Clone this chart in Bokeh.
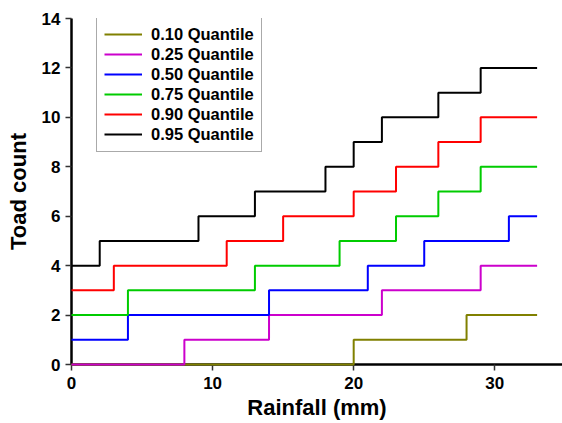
from bokeh.plotting import figure
from bokeh.models import Range1d, FixedTicker, Legend, LegendItem
from bokeh.embed import file_html
from bokeh.resources import INLINE

# Step breakpoints (rainfall, mm) and toad count values for each quantile
q10_x = [0, 20, 28, 33]
q10_y = [0, 1, 2, 2]
q25_x = [0, 8, 14, 22, 29, 33]
q25_y = [0, 1, 2, 3, 4, 4]
q50_x = [0, 4, 14, 21, 25, 31, 33]
q50_y = [1, 2, 3, 4, 5, 6, 6]
q75_x = [0, 4, 13, 19, 23, 26, 29, 33]
q75_y = [2, 3, 4, 5, 6, 7, 8, 8]
q90_x = [0, 3, 11, 15, 20, 23, 26, 29, 33]
q90_y = [3, 4, 5, 6, 7, 8, 9, 10, 10]
q95_x = [0, 2, 9, 13, 18, 20, 22, 26, 29, 33]
q95_y = [4, 5, 6, 7, 8, 9, 10, 11, 12, 12]

labels = ["0.10 Quantile", "0.25 Quantile", "0.50 Quantile",
          "0.75 Quantile", "0.90 Quantile", "0.95 Quantile"]
colors = ["#808000", "#cc00cc", "#0000ff", "#00cc00", "#ff0000", "#000000"]
x_ticks = [0, 10, 20, 30]
y_ticks = [0, 2, 4, 6, 8, 10, 12, 14]

FONT = "Liberation Sans"

p = figure(width=562, height=423, output_backend="svg", toolbar_location=None,
           x_range=Range1d(0, 34.8), y_range=Range1d(0, 14),
           min_border_left=71, min_border_right=0, min_border_top=18,
           min_border_bottom=59)
p.outline_line_color = None
p.grid.visible = False

series = [(q10_x, q10_y), (q25_x, q25_y), (q50_x, q50_y),
          (q75_x, q75_y), (q90_x, q90_y), (q95_x, q95_y)]
items = []
for (xs, ys), lab, col in zip(series, labels, colors):
    r = p.step(xs, ys, mode="after", line_color=col, line_width=2, level="overlay")
    items.append(LegendItem(label=lab, renderers=[r]))

for ax in (p.xaxis[0], p.yaxis[0]):
    ax.axis_line_width = 2.5
    ax.axis_line_color = "black"
    ax.major_tick_out = 6
    ax.major_tick_in = 0
    ax.major_tick_line_color = "#333333"
    ax.major_tick_line_width = 1.5
    ax.minor_tick_line_color = None
    ax.major_label_text_font = FONT
    ax.major_label_text_font_style = "bold"
    ax.major_label_text_font_size = "17px"
    ax.major_label_text_color = "black"
    ax.axis_label_text_font = FONT
    ax.axis_label_text_font_style = "bold"
    ax.axis_label_text_font_size = "22px"
    ax.axis_label_text_color = "black"

p.xaxis.major_label_standoff = 6
p.xaxis.axis_label_standoff = 3
p.yaxis.major_label_standoff = 5
p.yaxis.axis_label_standoff = 8
p.xaxis.ticker = FixedTicker(ticks=x_ticks)
p.yaxis.ticker = FixedTicker(ticks=y_ticks)
p.xaxis.axis_label = "Rainfall (mm)"
p.yaxis.axis_label = "Toad count"

legend = Legend(items=items, location=(25, 212))
legend.label_text_font = FONT
legend.label_text_font_style = "bold"
legend.label_text_font_size = "16.5px"
legend.label_text_color = "black"
legend.label_height = 20
legend.glyph_height = 20
legend.glyph_width = 38
legend.label_standoff = 9
legend.spacing = 0
legend.padding = 7
legend.margin = 0
legend.border_line_color = "#555555"
legend.border_line_width = 1.2
legend.background_fill_alpha = 1
p.add_layout(legend)

open("out.html", "w").write(file_html(p, INLINE))
